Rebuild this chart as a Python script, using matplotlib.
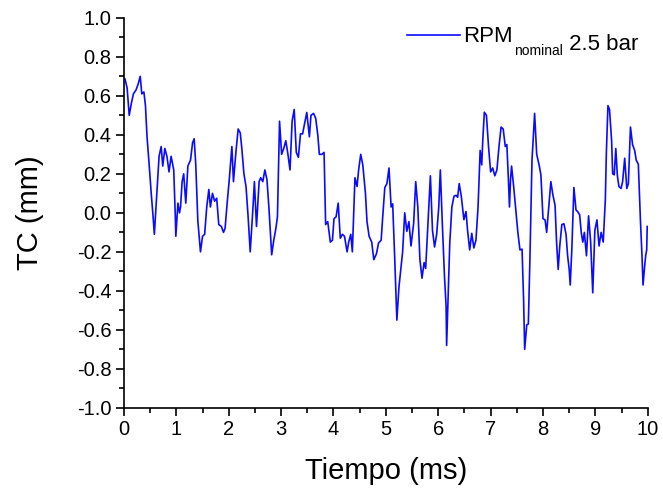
import matplotlib
matplotlib.use("Agg")
import matplotlib.pyplot as plt
from matplotlib.ticker import MultipleLocator, FormatStrFormatter

plt.rcParams['font.family'] = ['Liberation Sans', 'DejaVu Sans']
plt.rcParams['axes.unicode_minus'] = False

# Time (ms) and TC (mm) samples
tiempo = [0.02, 0.06, 0.10, 0.14, 0.18, 0.23, 0.27, 0.31, 0.34, 0.38, 0.41, 0.44, 0.48, 0.52,
          0.55, 0.58, 0.62, 0.65, 0.67, 0.71, 0.74, 0.78, 0.82, 0.86, 0.90, 0.95, 0.98, 0.99,
          1.03, 1.06, 1.08, 1.11, 1.14, 1.18, 1.22, 1.27, 1.31, 1.34, 1.37, 1.41, 1.46, 1.50,
          1.54, 1.58, 1.62, 1.65, 1.69, 1.73, 1.77, 1.81, 1.86, 1.90, 1.93, 1.97, 2.01, 2.06,
          2.09, 2.14, 2.18, 2.22, 2.25, 2.29, 2.33, 2.37, 2.41, 2.46, 2.49, 2.53, 2.58, 2.61,
          2.65, 2.69, 2.73, 2.77, 2.82, 2.86, 2.90, 2.93, 2.97, 3.01, 3.05, 3.09, 3.13, 3.17,
          3.21, 3.25, 3.29, 3.33, 3.37, 3.41, 3.45, 3.49, 3.54, 3.57, 3.62, 3.66, 3.70, 3.73,
          3.78, 3.82, 3.85, 3.89, 3.94, 3.98, 4.01, 4.05, 4.09, 4.13, 4.17, 4.21, 4.26, 4.29,
          4.33, 4.36, 4.41, 4.45, 4.48, 4.52, 4.56, 4.61, 4.64, 4.68, 4.73, 4.77, 4.82, 4.86,
          4.91, 4.94, 4.98, 5.02, 5.06, 5.10, 5.13, 5.17, 5.21, 5.25, 5.29, 5.32, 5.36, 5.40,
          5.44, 5.48, 5.53, 5.57, 5.61, 5.65, 5.69, 5.73, 5.76, 5.80, 5.85, 5.89, 5.93, 5.97,
          6.01, 6.04, 6.08, 6.12, 6.15, 6.16, 6.19, 6.22, 6.26, 6.30, 6.34, 6.37, 6.40, 6.44,
          6.49, 6.53, 6.56, 6.60, 6.64, 6.68, 6.72, 6.76, 6.80, 6.83, 6.85, 6.88, 6.92, 6.96,
          7.00, 7.04, 7.08, 7.12, 7.16, 7.20, 7.24, 7.28, 7.31, 7.34, 7.36, 7.38, 7.40, 7.44,
          7.48, 7.52, 7.56, 7.60, 7.63, 7.65, 7.69, 7.72, 7.75, 7.79, 7.84, 7.88, 7.93, 7.96,
          8.00, 8.04, 8.07, 8.11, 8.15, 8.19, 8.23, 8.26, 8.29, 8.32, 8.36, 8.40, 8.44, 8.47,
          8.50, 8.52, 8.55, 8.59, 8.63, 8.66, 8.70, 8.73, 8.76, 8.79, 8.83, 8.87, 8.91, 8.95,
          8.99, 9.03, 9.07, 9.11, 9.15, 9.19, 9.21, 9.24, 9.27, 9.31, 9.33, 9.36, 9.39, 9.42,
          9.45, 9.49, 9.52, 9.56, 9.60, 9.63, 9.67, 9.71, 9.75, 9.78, 9.82, 9.86, 9.89, 9.91,
          9.94, 9.96, 9.98, 9.99]
tc = [0.686, 0.64, 0.50, 0.56, 0.61, 0.63, 0.66, 0.70, 0.61, 0.62, 0.55, 0.39, 0.25, 0.10,
      0.0, -0.11, 0.07, 0.20, 0.29, 0.34, 0.24, 0.33, 0.29, 0.21, 0.29, 0.22, -0.02, -0.12,
      0.05, 0.0, 0.03, 0.16, 0.20, 0.05, 0.24, 0.27, 0.36, 0.38, 0.25, -0.04, -0.20, -0.12,
      -0.11, 0.03, 0.12, 0.03, 0.10, 0.06, 0.075, -0.06, -0.07, -0.10, -0.08, 0.05, 0.17, 0.34,
      0.16, 0.32, 0.43, 0.41, 0.33, 0.20, 0.135, -0.02, -0.20, 0.015, 0.16, -0.07, 0.16, 0.18,
      0.16, 0.22, 0.17, 0.015, -0.215, -0.14, -0.08, -0.02, 0.47, 0.30, 0.33, 0.37, 0.30, 0.22,
      0.47, 0.53, 0.31, 0.285, 0.405, 0.405, 0.46, 0.515, 0.39, 0.50, 0.51, 0.485, 0.40, 0.30,
      0.30, 0.31, -0.06, -0.045, -0.15, -0.14, -0.03, -0.02, 0.05, -0.13, -0.11, -0.12, -0.20, -0.15,
      -0.11, -0.20, 0.18, 0.135, 0.22, 0.30, 0.245, 0.10, -0.045, -0.12, -0.15, -0.24, -0.21, -0.155,
      -0.14, -0.02, 0.13, 0.15, 0.23, 0.03, 0.046, -0.24, -0.55, -0.38, -0.275, -0.20, 0.0, -0.095,
      -0.045, -0.17, -0.055, 0.16, 0.03, -0.24, -0.335, -0.255, -0.285, -0.07, 0.19, -0.09, -0.175, -0.11,
      0.03, 0.22, -0.07, -0.33, -0.48, -0.68, -0.41, -0.155, 0.03, 0.085, 0.09, 0.08, 0.15, 0.085,
      -0.035, 0.007, -0.09, -0.19, -0.105, -0.18, -0.14, 0.03, 0.32, 0.246, 0.37, 0.516, 0.50, 0.34,
      0.21, 0.23, 0.19, 0.22, 0.34, 0.44, 0.43, 0.34, 0.35, 0.17, 0.03, 0.17, 0.24, 0.135,
      0.015, -0.10, -0.19, -0.186, -0.45, -0.70, -0.574, -0.57, -0.24, 0.27, 0.51, 0.30, 0.24, 0.195,
      -0.03, -0.036, -0.10, 0.03, 0.16, 0.09, 0.04, -0.155, -0.29, -0.17, -0.06, -0.056, -0.11, -0.22,
      -0.29, -0.37, -0.19, 0.13, 0.015, 0.007, -0.01, -0.10, -0.15, -0.10, -0.22, -0.015, -0.15, -0.41,
      -0.09, -0.036, -0.17, -0.10, -0.15, 0.067, 0.31, 0.55, 0.53, 0.37, 0.20, 0.195, 0.33, 0.19,
      0.135, 0.125, 0.16, 0.28, 0.125, 0.15, 0.44, 0.35, 0.32, 0.27, 0.25, -0.036, -0.22, -0.37,
      -0.275, -0.22, -0.19, -0.07]

serie_name = 'RPM'
serie_sub = 'nominal'
serie_cond = ' 2.5 bar'
x_label = 'Tiempo (ms)'
y_label = 'TC (mm)'
line_color = '#0a0aff'

fig = plt.figure(figsize=(6.63, 4.95), dpi=100)
ax = fig.add_axes([0.187, 0.176, 0.790, 0.788])

ax.plot(tiempo, tc, color=line_color, linewidth=1.2)

ax.set_xlim(0, 10)
ax.set_ylim(-1.0, 1.0)
ax.xaxis.set_major_locator(MultipleLocator(1))
ax.xaxis.set_minor_locator(MultipleLocator(0.5))
ax.yaxis.set_major_locator(MultipleLocator(0.2))
ax.yaxis.set_minor_locator(MultipleLocator(0.1))
ax.yaxis.set_major_formatter(FormatStrFormatter('%.1f'))

ax.spines['top'].set_visible(False)
ax.spines['right'].set_visible(False)
for s in ('left', 'bottom'):
    ax.spines[s].set_linewidth(1.2)

ax.tick_params(which='major', direction='out', length=6, width=1.2, labelsize=14.5, pad=3)
ax.tick_params(which='minor', direction='out', length=3.5, width=1.2)

ax.set_xlabel(x_label, fontsize=21, labelpad=13)
ax.set_ylabel(y_label, fontsize=21, labelpad=24)

# Legend entry: sample line plus a label with a subscript
ax.plot([0.540, 0.641], [0.956, 0.956], transform=ax.transAxes, color=line_color,
        linewidth=1.2, clip_on=False)
t_name = ax.text(0.648, 0.938, serie_name, transform=ax.transAxes, fontsize=16,
                 ha='left', va='baseline')
t_sub = ax.annotate(serie_sub, xy=(1, 0), xycoords=t_name, xytext=(0.5, -6),
                    textcoords='offset points', fontsize=10, ha='left', va='baseline')
ax.annotate(serie_cond, xy=(1, 0), xycoords=t_sub, xytext=(0, 6),
            textcoords='offset points', fontsize=16, ha='left', va='baseline')

fig.savefig('out.png', dpi=100)
